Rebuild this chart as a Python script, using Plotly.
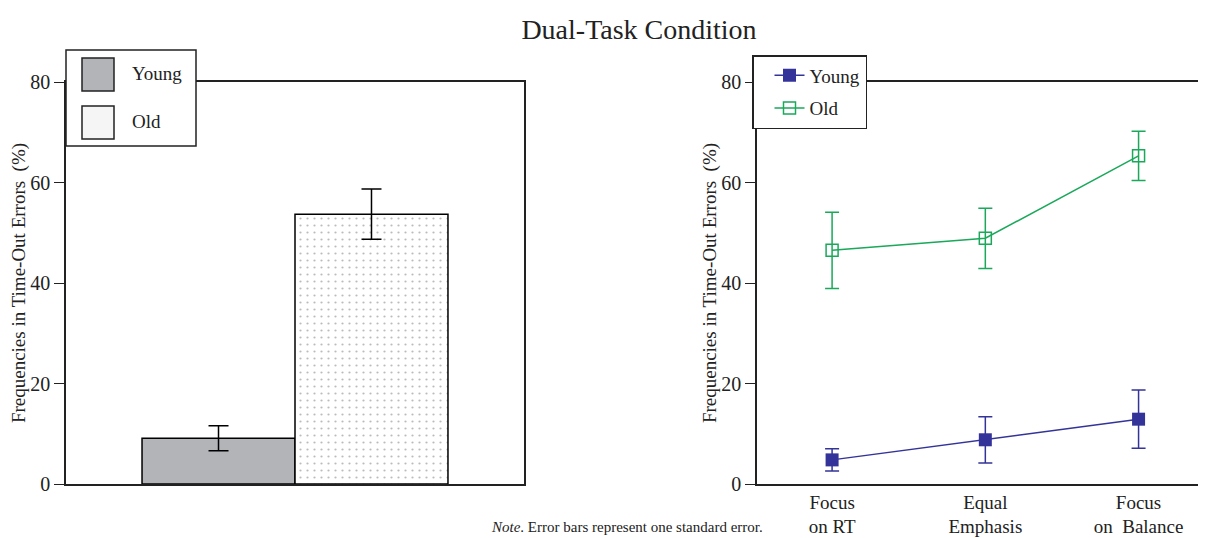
import plotly.graph_objects as go

# ---- data ----
bar_groups = ["Young", "Old"]
bar_values = [9.1, 53.7]
bar_se = [2.5, 5.0]

conditions = ["Focus<br>on RT", "Equal<br>Emphasis", "Focus<br>on  Balance"]
young_vals = [4.8, 8.8, 12.9]
young_se = [2.2, 4.6, 5.8]
old_vals = [46.5, 48.9, 65.3]
old_se = [7.6, 6.0, 4.9]

yticks = [0, 20, 40, 60, 80]

FONT = "Liberation Serif, Times New Roman, serif"
NAVY = "#333399"
GREEN = "#1aa85a"
GRAY = "#b3b4b8"
INK = "#222222"

# The page body has an 8px margin; the figure is sized to fill the rest of the window.
OFF = 8
W, H = 1206 - OFF, 538 - OFF
def px(x):
    return (x - OFF) / W
def py(y):
    return 1 - (y - OFF) / H

fig = go.Figure()

# Left panel: bars
fig.add_trace(go.Bar(
    x=["Dual"], y=[bar_values[0]], name=bar_groups[0], offsetgroup="a",
    marker=dict(color=GRAY, line=dict(color="black", width=1.5)),
    error_y=dict(type="data", array=[bar_se[0]], color="black", thickness=1.5, width=10),
    xaxis="x", yaxis="y", showlegend=False,
))
fig.add_trace(go.Bar(
    x=["Dual"], y=[bar_values[1]], name=bar_groups[1], offsetgroup="b",
    marker=dict(color="white", line=dict(color="black", width=1.5),
                pattern=dict(shape=".", size=7, solidity=0.08, fgcolor="#777777", bgcolor="white")),
    error_y=dict(type="data", array=[bar_se[1]], color="black", thickness=1.5, width=10),
    xaxis="x", yaxis="y", showlegend=False,
))

# Right panel: lines
fig.add_trace(go.Scatter(
    x=conditions, y=young_vals, name="Young", mode="lines+markers",
    line=dict(color=NAVY, width=1.5),
    marker=dict(symbol="square", size=13, color=NAVY),
    error_y=dict(type="data", array=young_se, color=NAVY, thickness=1.5, width=7),
    xaxis="x2", yaxis="y2", legend="legend", legendgroup="y",
))
fig.add_trace(go.Scatter(
    x=conditions, y=old_vals, name="Old", mode="lines+markers",
    line=dict(color=GREEN, width=1.5),
    marker=dict(symbol="square-open", size=12, color=GREEN, line=dict(width=1.5)),
    error_y=dict(type="data", array=old_se, color=GREEN, thickness=1.5, width=7),
    xaxis="x2", yaxis="y2", legend="legend", legendgroup="o",
))

axis_common = dict(showline=True, linecolor=INK, linewidth=1.5, showgrid=False, zeroline=False,
                   automargin=False, tickfont=dict(family=FONT, size=20, color=INK))
ytitle_text = "Frequencies in Time-Out Errors  (%)"
ytitle_font = dict(family=FONT, size=19, color=INK)

fig.update_layout(
    width=W, height=H,
    margin=dict(l=0, r=0, t=0, b=0, autoexpand=False),
    paper_bgcolor="white", plot_bgcolor="white",
    font=dict(family=FONT, color=INK),
    barmode="group", bargap=0.332, bargroupgap=0,
    title=dict(text="Dual-Task Condition", x=px(639), xanchor="center", y=py(29), yanchor="middle",
               xref="paper", font=dict(family=FONT, size=28, color=INK)),
    xaxis=dict(domain=[px(66), px(524)], showticklabels=False, ticks="", mirror=True, **axis_common),
    yaxis=dict(domain=[py(484), py(82)], range=[0, 80], tickvals=yticks, ticks="outside", ticklen=10,
               tickcolor=INK, tickwidth=1.2, mirror=True,
               title=dict(text=ytitle_text, font=ytitle_font, standoff=8), **axis_common),
    xaxis2=dict(domain=[px(757), 1.0], range=[-0.49, 2.44], ticks="", mirror=True, anchor="y2",
                **{**axis_common, "tickfont": dict(family=FONT, size=19, color=INK)}),
    yaxis2=dict(domain=[py(484), py(82)], range=[0, 80], tickvals=yticks, ticks="outside", ticklen=10,
                tickcolor=INK, tickwidth=1.2, anchor="x2",
                title=dict(text=ytitle_text, font=ytitle_font, standoff=0), **axis_common),
    legend=dict(x=px(752), y=py(55), xanchor="left", yanchor="top", bgcolor="white",
                bordercolor=INK, borderwidth=1.5, font=dict(family=FONT, size=19, color=INK),
                tracegroupgap=5, indentation=16),
)

# Left legend box (manual, matching the reference's large swatches)
shapes = [
    dict(type="rect", xref="paper", yref="paper", x0=px(66), x1=px(196), y0=py(146), y1=py(50),
         fillcolor="white", line=dict(color=INK, width=1.5), layer="above"),
    dict(type="rect", xref="paper", yref="paper", x0=px(82), x1=px(114), y0=py(91), y1=py(58),
         fillcolor=GRAY, line=dict(color=INK, width=1.5), layer="above"),
    dict(type="rect", xref="paper", yref="paper", x0=px(82), x1=px(114), y0=py(139), y1=py(106),
         fillcolor="#f5f5f5", line=dict(color=INK, width=1.5), layer="above"),
]
fig.update_layout(shapes=shapes)

annotations = [
    dict(text=bar_groups[0], x=px(130), y=py(74), xref="paper", yref="paper", xanchor="left", yanchor="middle",
         showarrow=False, font=dict(family=FONT, size=19, color=INK)),
    dict(text=bar_groups[1], x=px(130), y=py(122), xref="paper", yref="paper", xanchor="left", yanchor="middle",
         showarrow=False, font=dict(family=FONT, size=19, color=INK)),
    dict(text="<i>Note</i>. Error bars represent one standard error.", x=px(489), y=py(527), xref="paper",
         yref="paper", xanchor="left", yanchor="middle", showarrow=False,
         font=dict(family=FONT, size=15, color=INK)),
]
fig.update_layout(annotations=annotations)

fig.write_html("out.html")
